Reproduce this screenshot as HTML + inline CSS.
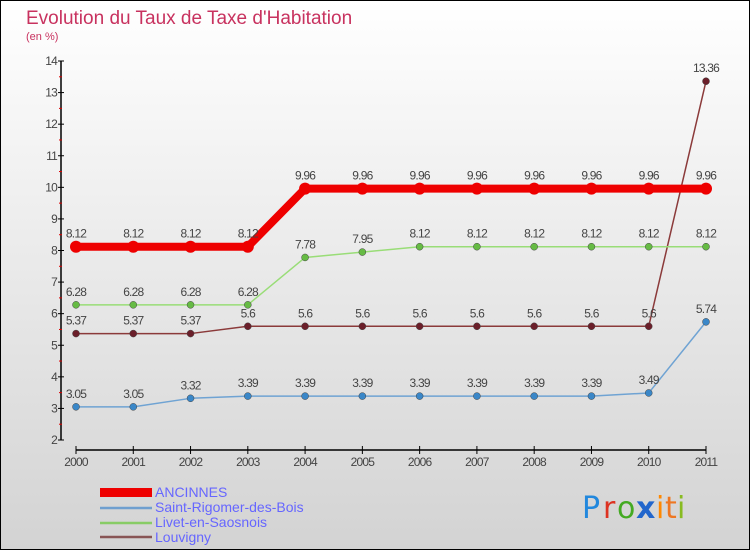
<!DOCTYPE html>
<html><head><meta charset="utf-8"><style>
html,body{margin:0;padding:0}
body{width:750px;height:550px;overflow:hidden;font-family:"Liberation Sans",sans-serif}
</style></head><body>
<svg id="chart" width="750" height="550" xmlns="http://www.w3.org/2000/svg">
<defs><linearGradient id="bg" x1="0" y1="0" x2="0" y2="1"><stop offset="0" stop-color="#ffffff"/><stop offset="1" stop-color="#d3d3d3"/></linearGradient></defs>
<rect x="0.5" y="0.5" width="749" height="549" fill="url(#bg)" stroke="#000"/>
<text x="26" y="24" font-size="19" fill="#c8325f">Evolution du Taux de Taxe d'Habitation</text>
<text x="26" y="40" font-size="11" fill="#c8325f">(en %)</text>
<g id="axes"></g><g id="series"></g>
<g>
<rect x="100" y="488" width="52" height="9" fill="#e00"/>
<text x="155" y="497" font-size="14" fill="#6666ff">ANCINNES</text>
<line x1="100" y1="508" x2="152" y2="508" stroke="#6f9fcf" stroke-width="2.5"/>
<text x="155" y="512" font-size="14" fill="#6666ff">Saint-Rigomer-des-Bois</text>
<line x1="100" y1="523" x2="152" y2="523" stroke="#88cc66" stroke-width="2.5"/>
<text x="155" y="527" font-size="14" fill="#6666ff">Livet-en-Saosnois</text>
<line x1="100" y1="537" x2="152" y2="537" stroke="#885555" stroke-width="2.5"/>
<text x="155" y="542" font-size="14" fill="#6666ff">Louvigny</text>
</g>
<g font-size="30" font-family="DejaVu Sans, sans-serif">
<text x="582" y="518" fill="#2288dd">P</text><text x="603" y="518" fill="#dd3322">r</text><text x="617" y="518" fill="#44aa22">o</text><text x="636" y="518" fill="#2266cc" font-weight="bold">x</text><text x="656" y="518" fill="#ff8800">i</text><text x="665" y="518" fill="#ee7722">t</text><text x="677" y="518" fill="#88bb22">i</text>
</g>
</svg>
<script>
const years=[2000,2001,2002,2003,2004,2005,2006,2007,2008,2009,2010,2011];
const yTicks=[2,3,4,5,6,7,8,9,10,11,12,13,14];
const ancinnes=[8.12,8.12,8.12,8.12,9.96,9.96,9.96,9.96,9.96,9.96,9.96,9.96];
const saintRigomer=[3.05,3.05,3.32,3.39,3.39,3.39,3.39,3.39,3.39,3.39,3.49,5.74];
const livet=[6.28,6.28,6.28,6.28,7.78,7.95,8.12,8.12,8.12,8.12,8.12,8.12];
const louvigny=[5.37,5.37,5.37,5.6,5.6,5.6,5.6,5.6,5.6,5.6,5.6,13.36];
const NS="http://www.w3.org/2000/svg";
const X=i=>76+i*(630/11);
const Y=v=>440-(v-2)*(379/12);
function mk(tag,attrs,parent){const e=document.createElementNS(NS,tag);for(const k in attrs)e.setAttribute(k,attrs[k]);parent.appendChild(e);return e;}
const ax=document.getElementById('axes');
let yl=mk('line',{x1:61,y1:Y(14),x2:61,y2:Y(2),stroke:'#000','stroke-width':1.5},ax);


yTicks.forEach(t=>{
 mk('line',{x1:58,y1:Y(t),x2:64,y2:Y(t),stroke:'#000'},ax);
 if(t<14) mk('line',{x1:59,y1:Y(t+0.5),x2:62,y2:Y(t+0.5),stroke:'#d00'},ax);
 const tx=mk('text',{x:57,y:Y(t)+4,'font-size':12,fill:'#444','text-anchor':'end','letter-spacing':'-0.8'},ax);tx.textContent=t;
 
 
});
let xl=mk('line',{x1:X(0),y1:450,x2:X(11),y2:450,stroke:'#000','stroke-width':1.5},ax);


years.forEach((y,i)=>{
 mk('line',{x1:X(i),y1:446,x2:X(i),y2:454,stroke:'#000'},ax);
 const tx=mk('text',{x:X(i),y:466,'font-size':12,fill:'#444','text-anchor':'middle','letter-spacing':'-0.8'},ax);tx.textContent=y;
 
 
});
const sg=document.getElementById('series');
function series(vals,name,color,dotFill,lw,r){
 const g=mk('g',{},sg);
 
 
 mk('polyline',{points:vals.map((v,i)=>X(i)+','+Y(v)).join(' '),fill:'none',stroke:color,'stroke-width':lw,'stroke-linejoin':'round'},g);
 vals.forEach((v,i)=>{
  const c=mk('circle',{cx:X(i),cy:Y(v),r:r,fill:dotFill,stroke:lw>4?'none':'#444','stroke-width':0.5},g);
  
  
  const t=mk('text',{x:X(i),y:Y(v)-9,'font-size':12,fill:'#444','text-anchor':'middle','letter-spacing':'-0.8'},g);t.textContent=v;
  
  
 });
}
series(louvigny,'louvigny-series','#8b3a3a','#6b1f2a',1.5,3.5);
series(saintRigomer,'saint-rigomer-series','#6fa3d3','#3a87c8',1.5,3.5);
series(livet,'livet-series','#99dd77','#66bb44',1.5,3.5);
series(ancinnes,'ancinnes-series','#ee0000','#ee0000',8,6);
</script>
</body></html>
